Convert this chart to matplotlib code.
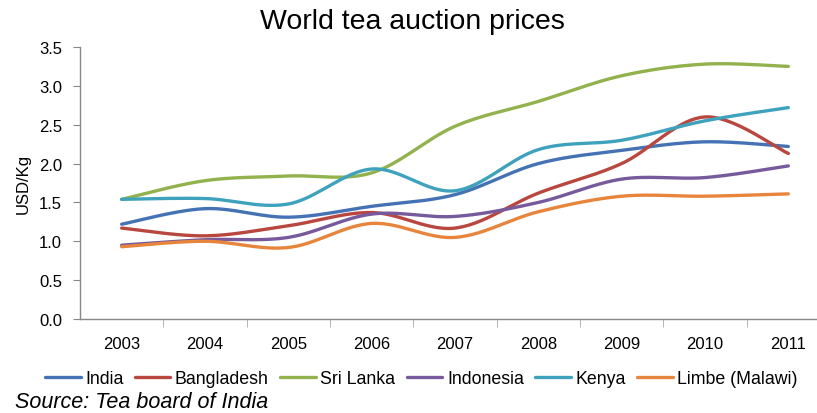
import numpy as np
import matplotlib
matplotlib.use('Agg')
import matplotlib.pyplot as plt

years = [2003, 2004, 2005, 2006, 2007, 2008, 2009, 2010, 2011]

india = [1.22, 1.42, 1.31, 1.45, 1.60, 2.00, 2.17, 2.28, 2.22]
bangladesh = [1.17, 1.07, 1.20, 1.37, 1.17, 1.62, 2.00, 2.60, 2.13]
sri_lanka = [1.54, 1.78, 1.84, 1.88, 2.48, 2.80, 3.13, 3.28, 3.25]
indonesia = [0.95, 1.02, 1.05, 1.35, 1.32, 1.50, 1.80, 1.82, 1.97]
kenya = [1.54, 1.55, 1.48, 1.93, 1.65, 2.18, 2.30, 2.55, 2.72]
limbe = [0.93, 1.00, 0.92, 1.23, 1.05, 1.38, 1.58, 1.58, 1.61]

series = [
    ('India', india, '#4572b4'),
    ('Bangladesh', bangladesh, '#b8473f'),
    ('Sri Lanka', sri_lanka, '#92b24e'),
    ('Indonesia', indonesia, '#775a9c'),
    ('Kenya', kenya, '#3fa2bd'),
    ('Limbe (Malawi)', limbe, '#e8853c'),
]


def smooth(xs, ys, n=30):
    # excel style smoothed line: cubic bezier through each point
    x = np.asarray(xs, dtype=float)
    y = np.asarray(ys, dtype=float)
    px = np.concatenate([[x[0]], x, [x[-1]]])
    py = np.concatenate([[y[0]], y, [y[-1]]])
    t = np.linspace(0, 1, n)[:, None]
    out_x, out_y = [], []
    for i in range(1, len(px) - 2):
        p0 = np.array([px[i], py[i]])
        p3 = np.array([px[i + 1], py[i + 1]])
        p1 = p0 + (np.array([px[i + 1], py[i + 1]]) -
                   np.array([px[i - 1], py[i - 1]])) / 6
        p2 = p3 - (np.array([px[i + 2], py[i + 2]]) -
                   np.array([px[i], py[i]])) / 6
        b = ((1 - t) ** 3 * p0 + 3 * (1 - t) ** 2 * t * p1 +
             3 * (1 - t) * t ** 2 * p2 + t ** 3 * p3)
        out_x.extend(b[:, 0])
        out_y.extend(b[:, 1])
    return out_x, out_y


plt.rcParams['font.family'] = ['Liberation Sans', 'DejaVu Sans']

fig = plt.figure(figsize=(8.17, 4.14), dpi=100)
ax = fig.add_axes([80 / 817, 94 / 414, 750 / 817, 272 / 414])

for name, vals, color in series:
    sx, sy = smooth(years, vals)
    ax.plot(sx, sy, color=color, lw=2.4, label=name,
            solid_capstyle='round')

ax.set_xlim(2002.5, 2011.5)
ax.set_ylim(0, 3.5)
ax.set_yticks(np.arange(0, 3.51, 0.5))
ax.set_yticklabels(['%.1f' % v for v in np.arange(0, 3.51, 0.5)])
ax.set_xticks(years)
ax.set_xticklabels([str(y) for y in years])
ax.set_xticks([y + 0.5 for y in years[:-1]], minor=True)

for side in ['top', 'right']:
    ax.spines[side].set_visible(False)
for side in ['left', 'bottom']:
    ax.spines[side].set_color('#888888')
    ax.spines[side].set_linewidth(1.0)

ax.tick_params(axis='y', direction='out', length=5, color='#888888',
               labelsize=12, pad=8)
ax.tick_params(axis='x', which='major', length=0, labelsize=12, pad=12)
ax.tick_params(axis='x', which='minor', direction='out', length=6,
               color='#aaaaaa')

ax.set_ylabel('USD/Kg', fontsize=12, labelpad=6)

fig.text(412 / 817, 1 - 22 / 414, 'World tea auction prices',
         ha='center', va='center', fontsize=20.5)

ax.legend(loc='center left', bbox_to_anchor=(45 / 817, 1 - 380 / 414),
          bbox_transform=fig.transFigure, ncol=6, frameon=False,
          fontsize=12.8, handlelength=2.0, handletextpad=0.25,
          columnspacing=0.65, borderpad=0, borderaxespad=0)

fig.text(15 / 817, 1 - 403 / 414, 'Source: Tea board of India',
         ha='left', va='center', fontsize=15.5, style='italic')

plt.savefig('out.png', dpi=100)
